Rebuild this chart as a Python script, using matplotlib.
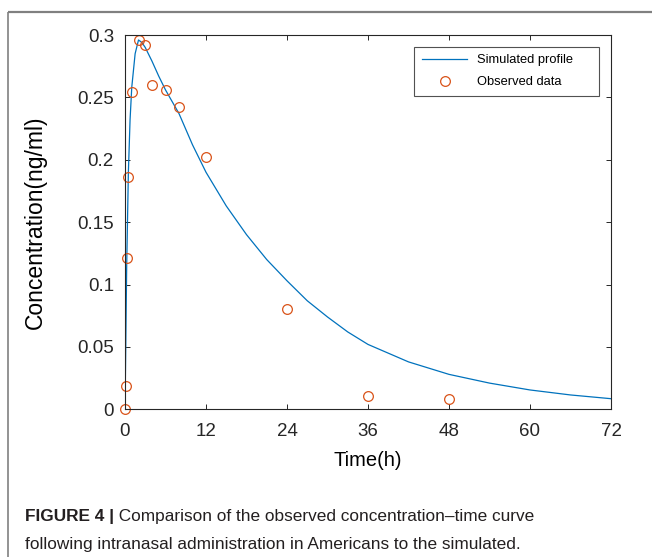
import matplotlib
matplotlib.use("Agg")
import matplotlib.pyplot as plt
from matplotlib.ticker import FuncFormatter

plt.rcParams["font.family"] = ["Liberation Sans", "DejaVu Sans"]

# -------------------------------
# Data
# -------------------------------
# simulated concentration-time profile (h, ng/ml)
sim_time = [0, 0.1, 0.25, 0.5, 0.75, 1, 1.5, 2, 2.5, 3, 4, 5, 6, 8, 10, 12,
            15, 18, 21, 24, 27, 30, 33, 36, 42, 48, 54, 60, 66, 72]
sim_conc = [0, 0.045, 0.115, 0.19, 0.232, 0.258, 0.285, 0.296, 0.294, 0.290,
            0.279, 0.267, 0.256, 0.237, 0.212, 0.190, 0.163, 0.140, 0.120,
            0.103, 0.087, 0.074, 0.062, 0.052, 0.038, 0.028, 0.021, 0.0155,
            0.0115, 0.0085]

# observed plasma concentrations
obs_time = [0, 0.083, 0.25, 0.5, 1, 2, 3, 4, 6, 8, 12, 24, 36, 48]
obs_conc = [0, 0.019, 0.121, 0.186, 0.254, 0.296, 0.292, 0.260, 0.256,
            0.242, 0.202, 0.080, 0.011, 0.008]

x_ticks = [0, 12, 24, 36, 48, 60, 72]
y_ticks = [0, 0.05, 0.1, 0.15, 0.2, 0.25, 0.3]

caption_bold = "FIGURE 4 |"
caption_line1 = " Comparison of the observed concentration\u2013time curve"
caption_line2 = "following intranasal administration in Americans to the simulated."

blue = "#0072BD"
orange = "#D95319"
dark = "#262626"

# -------------------------------
# Figure
# -------------------------------
W, H = 652, 557
fig = plt.figure(figsize=(W / 100, H / 100), dpi=100)

# thin grey frame along top and left
frame = fig.add_axes([0, 0, 1, 1], zorder=-1)
frame.set_axis_off()
frame.set_xlim(0, W)
frame.set_ylim(H, 0)
frame.plot([8, W], [12, 12], color="#808080", lw=1.6, solid_capstyle="butt")
frame.plot([8, 8], [12, H], color="#808080", lw=1.2, solid_capstyle="butt")

ax = fig.add_axes([125 / W, (H - 409.3) / H, (611 - 125) / W, (409.3 - 35) / H])
ax.plot(sim_time, sim_conc, color=blue, lw=0.9, label="Simulated profile")
ax.plot(obs_time, obs_conc, linestyle="none", marker="o", markersize=7,
        markerfacecolor="none", markeredgecolor=orange, markeredgewidth=0.9,
        label="Observed data", clip_on=False)

ax.set_xlim(0, 72)
ax.set_ylim(0, 0.3)
ax.set_xticks(x_ticks)
ax.set_yticks(y_ticks)
ax.yaxis.set_major_formatter(FuncFormatter(lambda v, p: "%g" % round(v, 2)))
ax.tick_params(direction="in", length=3.5, width=0.7, colors=dark,
               labelsize=13.5, top=True, right=True)
ax.tick_params(axis="y", pad=8)
ax.tick_params(axis="x", pad=10)
for s in ax.spines.values():
    s.set_color(dark)
    s.set_linewidth(0.8)

ax.set_xlabel("Time(h)", fontsize=14.5, labelpad=8)
ax.set_ylabel("Concentration(ng/ml)", fontsize=16.5, labelpad=22)

leg = ax.legend(loc="upper left", bbox_to_anchor=(0.595, 0.837, 0.381, 0.132),
                mode="expand", fontsize=9.3, frameon=True, fancybox=False,
                edgecolor=dark, handlelength=3.5, handletextpad=0.75,
                labelspacing=0.75, borderpad=0.6, borderaxespad=0,
                numpoints=1)
leg.get_frame().set_linewidth(0.8)

# -------------------------------
# Caption
# -------------------------------
cap_color = "#231f20"
t1 = fig.text(25 / W, 1 - 521 / H, caption_bold, fontsize=12.4,
              fontweight="bold", color=cap_color, va="baseline")
fig.canvas.draw()
bb = t1.get_window_extent(renderer=fig.canvas.get_renderer())
fig.text(bb.x1 / W, 1 - 521 / H, caption_line1, fontsize=12.4,
         color=cap_color, va="baseline")
fig.text(25 / W, 1 - 549 / H, caption_line2, fontsize=12.4,
         color=cap_color, va="baseline")

fig.savefig("out.png", dpi=100)
